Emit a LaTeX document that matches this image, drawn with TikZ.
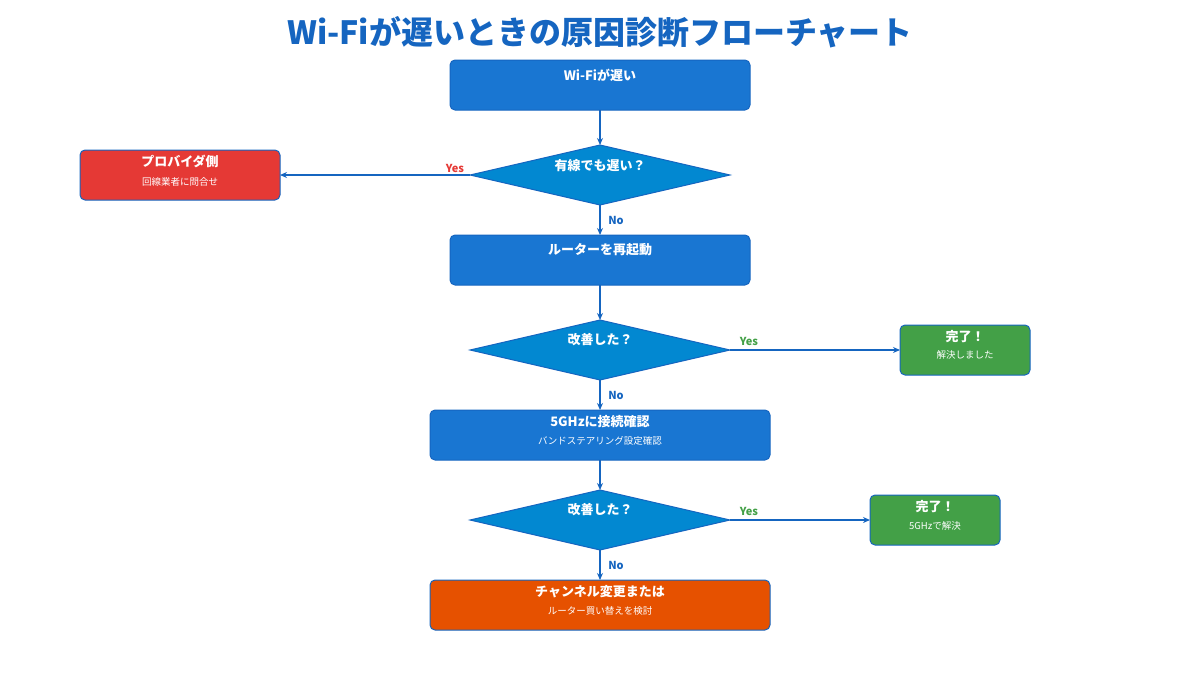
\documentclass[tikz,border=0pt]{standalone}
\usepackage{fontspec}
\setmainfont{Noto Sans CJK JP}
\usetikzlibrary{shapes.geometric,arrows.meta}
\definecolor{blu}{HTML}{1976D2}
\definecolor{dblu}{HTML}{1565C0}
\definecolor{dia}{HTML}{0288D1}
\definecolor{red1}{HTML}{E53935}
\definecolor{grn}{HTML}{43A047}
\definecolor{org}{HTML}{E65100}
\begin{document}
\begin{tikzpicture}[x=1pt,y=-1pt,
 box/.style={draw=dblu,line width=1pt,rounded corners=5pt},
 dm/.style={draw=dblu,fill=dia,line width=1pt},
 t1/.style={text=white,font=\bfseries\fontsize{13}{15}\selectfont},
 t2/.style={text=white,font=\fontsize{9.5}{11}\selectfont},
 ln/.style={draw=dblu,line width=1.3pt,-{Stealth[length=7pt,width=6pt]}},
 lb/.style={font=\bfseries\fontsize{11}{13}\selectfont}]
\useasboundingbox (0,0) rectangle (1200,675);
\node[text=dblu,font=\bfseries\fontsize{32}{36}\selectfont] (title) at (600,32) {Wi-Fiが遅いときの原因診断フローチャート};
% boxes
\draw[box,fill=blu] (450,60) rectangle (750,110);
\node[t1] (s) at (600,75) {Wi-Fiが遅い};
\coordinate (sb) at (600,110);
\draw[dm] (470,175) -- (600,145) -- (730,175) -- (600,205) -- cycle;
\coordinate (d1t) at (600,145); \coordinate (d1b) at (600,205); \coordinate (d1l) at (470,175);
\node[t1] (d1) at (600,166) {有線でも遅い？};
\draw[box,fill=red1] (80,150) rectangle (280,200);
\coordinate (rr) at (280,175);
\node[t1] (r1) at (180,161) {プロバイダ側};
\node[t2] (r2) at (180,182) {回線業者に問合せ};
\draw[box,fill=blu] (450,235) rectangle (750,285);
\coordinate (b2t) at (600,235); \coordinate (b2b) at (600,285);
\node[t1] (b2) at (600,250) {ルーターを再起動};
\draw[dm] (470,350) -- (600,320) -- (730,350) -- (600,380) -- cycle;
\coordinate (d2t) at (600,320); \coordinate (d2b) at (600,380); \coordinate (d2r) at (730,350);
\node[t1] (d2) at (600,340) {改善した？};
\draw[box,fill=grn] (900,325) rectangle (1030,375);
\coordinate (g1l) at (900,350);
\node[t1] (g1a) at (965,337) {完了！};
\node[t2] (g1b) at (965,355) {解決しました};
\draw[box,fill=blu] (430,410) rectangle (770,460);
\coordinate (b3t) at (600,410); \coordinate (b3b) at (600,460);
\node[t1] (b3a) at (600,422) {5GHzに接続確認};
\node[t2] (b3b2) at (600,441) {バンドステアリング設定確認};
\draw[dm] (470,520) -- (600,490) -- (730,520) -- (600,550) -- cycle;
\coordinate (d3t) at (600,490); \coordinate (d3b) at (600,550); \coordinate (d3r) at (730,520);
\node[t1] (d3) at (600,510) {改善した？};
\draw[box,fill=grn] (870,495) rectangle (1000,545);
\coordinate (g2l) at (870,520);
\node[t1] (g2a) at (935,507) {完了！};
\node[t2] (g2b) at (935,526) {5GHzで解決};
\draw[box,fill=org] (430,580) rectangle (770,630);
\coordinate (ot) at (600,580);
\node[t1] (oa) at (600,592) {チャンネル変更または};
\node[t2] (ob) at (600,611) {ルーター買い替えを検討};
% connectors
\draw[ln] (sb) -- (d1t);
\draw[ln] (d1l) -- (rr);
\draw[ln] (d1b) -- (b2t);
\draw[ln] (b2b) -- (d2t);
\draw[ln] (d2r) -- (g1l);
\draw[ln] (d2b) -- (b3t);
\draw[ln] (b3b) -- (d3t);
\draw[ln] (d3r) -- (g2l);
\draw[ln] (d3b) -- (ot);
% labels
\node[lb,text=red1] (y1) at (455,168) {Yes};
\node[lb,text=dblu] (n1) at (616,220) {No};
\node[lb,text=grn] (y2) at (749,341) {Yes};
\node[lb,text=dblu] (n2) at (616,395) {No};
\node[lb,text=grn] (y3) at (749,511) {Yes};
\node[lb,text=dblu] (n3) at (616,565) {No};
\end{tikzpicture}
\end{document}
